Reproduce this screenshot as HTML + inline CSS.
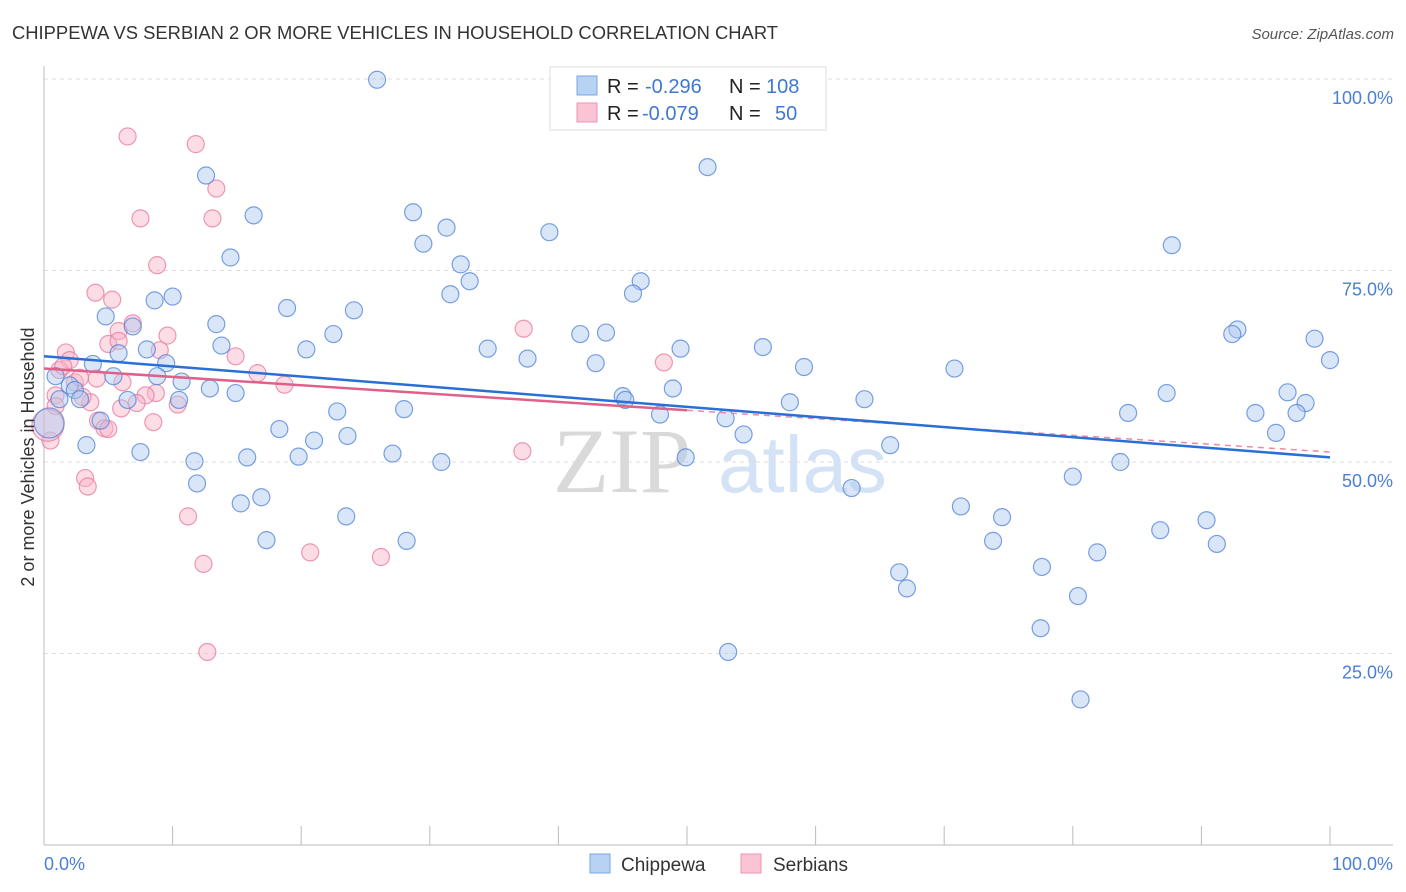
<!DOCTYPE html>
<html><head><meta charset="utf-8"><style>
body{margin:0;background:#fff;font-family:"Liberation Sans",sans-serif;}
#wrap{position:relative;width:1406px;height:892px;overflow:hidden;}
</style></head><body>
<div id="wrap">
<svg id="svg" width="1406" height="892" xmlns="http://www.w3.org/2000/svg">
<text x="12" y="39" font-size="18" fill="#333" textLength="766" lengthAdjust="spacingAndGlyphs">CHIPPEWA VS SERBIAN 2 OR MORE VEHICLES IN HOUSEHOLD CORRELATION CHART</text>
<text x="1394" y="39" font-size="15" fill="#555" font-style="italic" text-anchor="end">Source: ZipAtlas.com</text>
<g>
<text x="553" y="492" font-size="92" font-family="Liberation Serif,serif" fill="#d9d9d9">ZIP</text>
<text x="718" y="492" font-size="80" fill="#d3e2f5">atlas</text>
</g>
<g id="grid"></g>
<g id="axes"></g>
<g id="pts"></g>
<g id="lines"></g>
<text x="34" y="457" font-size="18" fill="#333" text-anchor="middle" transform="rotate(-90 34 457)">2 or more Vehicles in Household</text>
<g>
<rect x="550" y="67" width="276" height="63" fill="#fff" stroke="#ddd"/>
<rect x="577" y="76" width="20" height="19" fill="#b8d2f4" stroke="#7aa6e6"/>
<rect x="577" y="103" width="20" height="19" fill="#fac4d4" stroke="#ef94b0"/>
<g font-size="20" fill="#222">
<text x="607" y="93">R =</text>
<text x="645" y="93" fill="#3f78d4">-0.296</text>
<text x="729" y="93">N =</text>
<text x="766" y="93" fill="#3f78d4">108</text>
<text x="607" y="120">R =</text>
<text x="642" y="120" fill="#3f78d4">-0.079</text>
<text x="729" y="120">N =</text>
<text x="775" y="120" fill="#3f78d4">50</text>
</g></g>
<g>
<rect x="590" y="854" width="20" height="19" fill="#b8d2f4" stroke="#7aa6e6"/>
<text x="621" y="871" font-size="19" fill="#333">Chippewa</text>
<rect x="741" y="854" width="20" height="19" fill="#fac4d4" stroke="#ef94b0"/>
<text x="773" y="871" font-size="19" fill="#333">Serbians</text>
</g>
</svg></div>
<script>
const yTicks=[25,50,75,100];
const yTickLabels=["25.0%","50.0%","75.0%","100.0%"];
const xTickValues=[0,10,20,30,40,50,60,70,80,90,100];
const chipX=[25.9,51.6,12.6,16.3,28.7,31.3,29.5,39.3,87.7,14.5,32.4,33.1,46.4,31.6,45.8,10.0,8.6,18.9,24.1,4.8,13.4,6.9,22.5,41.7,43.7,92.8,92.4,98.8,13.8,8.0,20.4,34.5,49.5,55.9,5.8,37.6,42.9,100,3.8,9.5,59.1,70.8,0.9,5.4,8.8,10.7,2.0,12.9,48.9,14.9,2.4,87.3,96.7,45.0,6.5,10.5,2.8,1.2,63.8,58.0,98.1,45.2,22.8,28.0,84.3,94.2,97.4,47.9,53.0,4.4,18.3,23.6,54.4,95.8,21.0,3.3,65.8,7.5,49.9,15.8,19.8,27.1,11.7,30.9,83.7,80.0,11.9,62.8,16.9,15.3,71.3,23.5,74.5,90.4,86.8,17.3,28.2,73.8,91.2,81.9,77.6,66.5,67.1,80.4,77.5,53.2,80.6,0.4];
const chipY=[99.9,88.5,87.4,82.2,82.6,80.6,78.5,80.0,78.3,76.7,75.8,73.6,73.6,71.9,72.0,71.6,71.1,70.1,69.8,69.0,68.0,67.7,66.7,66.7,66.9,67.3,66.7,66.1,65.2,64.7,64.7,64.8,64.8,65.0,64.2,63.5,62.9,63.3,62.8,62.9,62.4,62.2,61.2,61.2,61.2,60.5,60.0,59.6,59.6,59.0,59.4,59.0,59.1,58.6,58.1,58.1,58.2,58.2,58.2,57.8,57.7,58.1,56.6,56.9,56.4,56.4,56.4,56.2,55.7,55.4,54.3,53.4,53.6,53.8,52.8,52.2,52.2,51.3,50.6,50.6,50.7,51.1,50.1,50.0,50.0,48.1,47.2,46.6,45.4,44.6,44.2,42.9,42.8,42.4,41.1,39.8,39.7,39.7,39.3,38.2,36.3,35.6,33.5,32.5,28.3,25.2,19.0,55.1];
const serbX=[6.5,11.8,13.4,7.5,13.1,8.8,4.0,5.3,37.3,5.8,6.9,9.6,5.0,5.8,9.0,14.9,1.7,2.0,48.2,1.2,16.6,4.1,6.1,2.4,18.7,0.9,8.7,7.9,3.6,7.2,10.4,0.9,4.2,8.5,4.7,5.0,0.5,37.2,3.2,3.4,11.2,20.7,26.2,12.4,12.7,0.3,1.5,2.8,3.0,6.0];
const serbY=[92.5,91.5,85.7,81.8,81.8,75.7,72.1,71.2,67.4,67.1,68.1,66.5,65.4,65.8,64.6,63.8,64.3,63.3,63.0,62.0,61.6,60.9,60.4,60.4,60.1,58.7,59.0,58.7,57.8,57.7,57.5,57.3,55.4,55.2,54.4,54.3,52.8,51.4,47.9,46.8,42.9,38.2,37.6,36.7,25.2,54.8,62.5,61.0,58.5,57.0];
const chipTrend=[63.8,50.6];
const serbTrend=[62.2,51.3];
const serbSolidEnd=50;
const X0=44,X1=1330,Y0=845,Y100=79;
const sx=v=>X0+(X1-X0)*v/100, sy=v=>Y0-(Y0-Y100)*v/100;
const NS="http://www.w3.org/2000/svg";
function mk(tag,attrs,parent){const e=document.createElementNS(NS,tag);for(const k in attrs)e.setAttribute(k,attrs[k]);document.getElementById(parent).appendChild(e);return e;}
yTicks.forEach((t,i)=>{
 const g=mk('line',{x1:44,x2:1393,y1:sy(t),y2:sy(t),stroke:'#ddd','stroke-dasharray':'4,4'},'grid');
 
 
 const l=mk('text',{x:1393,y:sy(t)+25,'font-size':18,fill:'#4a7fd4','text-anchor':'end'},'grid');
 l.textContent=yTickLabels[i];
 
 
});
const ya=mk('line',{x1:44,x2:44,y1:66,y2:845,stroke:'#bbb'},'axes');


const xa=mk('line',{x1:44,x2:1393,y1:845,y2:845,stroke:'#bbb'},'axes');


xTickValues.forEach(t=>{
 const e=mk('line',{x1:sx(t),x2:sx(t),y1:826,y2:845,stroke:'#bbb'},'axes');
 
 
});
const xl0=mk('text',{x:44,y:870,'font-size':18,fill:'#4a7fd4'},'axes');xl0.textContent='0.0%';


const xl1=mk('text',{x:1393,y:870,'font-size':18,fill:'#4a7fd4','text-anchor':'end'},'axes');xl1.textContent='100.0%';


serbX.forEach((x,i)=>{
 const big=(i===45);
 const c=mk('circle',{cx:sx(x),cy:sy(serbY[i]),r:big?16:8.5,fill:'rgba(248,180,200,0.45)',stroke:'rgba(232,120,155,0.75)','stroke-width':1.2},'pts');
 
 
});
chipX.forEach((x,i)=>{
 const big=(i===chipX.length-1);
 const c=mk('circle',{cx:sx(x),cy:sy(chipY[i]),r:big?15:8.5,fill:'rgba(170,200,240,0.45)',stroke:'rgba(80,130,215,0.75)','stroke-width':1.2},'pts');
 
 
});
const sMid=serbTrend[0]+(serbTrend[1]-serbTrend[0])*serbSolidEnd/100;
const pd=mk('line',{x1:sx(serbSolidEnd),y1:sy(sMid),x2:sx(100),y2:sy(serbTrend[1]),stroke:'#e88aa8','stroke-width':1.5,'stroke-dasharray':'6,5'},'lines');


const ps=mk('line',{x1:sx(0),y1:sy(serbTrend[0]),x2:sx(serbSolidEnd),y2:sy(sMid),stroke:'#e0608a','stroke-width':2.5},'lines');


const bl=mk('line',{x1:sx(0),y1:sy(chipTrend[0]),x2:sx(100),y2:sy(chipTrend[1]),stroke:'#2a6fd6','stroke-width':2.5},'lines');


</script>
</body></html>
